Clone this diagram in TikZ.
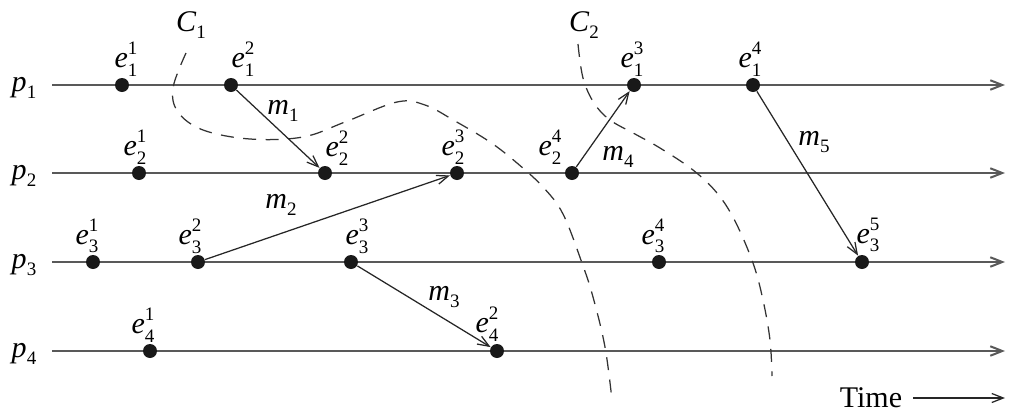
\documentclass[tikz,border=0pt]{standalone}
\usepackage{fontspec}
\setmainfont{Liberation Serif}
\usetikzlibrary{arrows.meta}
\newcommand\smalldig[1]{{\fontsize{7.6}{8}\selectfont #1}}
\newcommand\evl[2]{\textit{e}\rlap{\raisebox{0.45em}{\smalldig{#1}}}\raisebox{-0.27em}{\smalldig{#2}}}
\newcommand\subl[2]{\textit{#1}\raisebox{-0.22em}{\smalldig{#2}}}
\begin{document}
\begin{tikzpicture}[x=0.4pt,y=-0.4pt,
  proc/.style={draw=black!65, line width=0.8pt, -{Straight Barb[length=4.8pt,width=3.8pt]}},
  ev/.style={circle, fill=black!90, inner sep=0pt, minimum size=5.6pt},
  msg/.style={draw=black!85, line width=0.5pt, -{Straight Barb[length=4.6pt,width=3.6pt]}},
  cut/.style={draw=black!80, line width=0.5pt, dash pattern=on 5.2pt off 3.8pt},
  lab/.style={inner sep=0pt, font=\fontsize{12}{14}\selectfont}]
\useasboundingbox (0,0) rectangle (1009,414);

% process lines
\foreach \i/\y in {1/85,2/173,3/262,4/351}{
  \node[lab] (p\i) at (24,\y+3) {\subl{p}{\i}};
  \coordinate (s\i) at (52,\y);
  \coordinate (t\i) at (1005,\y);
  \draw[proc] (s\i) -- (t\i);
}

% cuts
\node[lab] (c1) at (191,25) {\subl{C}{1}};
\node[lab] (c2) at (584,25) {\subl{C}{2}};
\draw[cut] plot[smooth, tension=0.6] coordinates {(186,53) (173,88) (178,112) (203,130) (250,139) (303,137) (345,122) (397,102) (425,105) (455,121) (490,142) (517,163) (543,187) (563,214) (582,263) (593,297) (605,347) (612,400)};
\draw[cut] plot[smooth, tension=0.6] coordinates {(578,44) (583,78) (594,103) (610,120) (635,134) (660,148) (693,170) (717,193) (735,221) (753,263) (763,300) (770,340) (772,376)};

% events
\node[ev] (e11) at (122,85) {};
\node[ev] (e12) at (231,85) {};
\node[ev] (e13) at (634,85) {};
\node[ev] (e14) at (753,85) {};
\node[ev] (e21) at (139,173) {};
\node[ev] (e22) at (325,173) {};
\node[ev] (e23) at (457,173) {};
\node[ev] (e24) at (572,173) {};
\node[ev] (e31) at (93,262) {};
\node[ev] (e32) at (198,262) {};
\node[ev] (e33) at (351,262) {};
\node[ev] (e34) at (659,262) {};
\node[ev] (e35) at (862,262) {};
\node[ev] (e41) at (150,351) {};
\node[ev] (e42) at (497,351) {};

% event labels
\node[lab] (l11) at (126,59) {\evl{1}{1}};
\node[lab] (l12) at (243,59) {\evl{2}{1}};
\node[lab] (l13) at (632,59) {\evl{3}{1}};
\node[lab] (l14) at (750,59) {\evl{4}{1}};
\node[lab] (l21) at (135,147) {\evl{1}{2}};
\node[lab] (l22) at (337,148) {\evl{2}{2}};
\node[lab] (l23) at (453,147) {\evl{3}{2}};
\node[lab] (l24) at (550,147) {\evl{4}{2}};
\node[lab] (l31) at (87,236) {\evl{1}{3}};
\node[lab] (l32) at (190,236) {\evl{2}{3}};
\node[lab] (l33) at (357,236) {\evl{3}{3}};
\node[lab] (l34) at (653,236) {\evl{4}{3}};
\node[lab] (l35) at (868,235) {\evl{5}{3}};
\node[lab] (l41) at (143,325) {\evl{1}{4}};
\node[lab] (l42) at (487,324) {\evl{2}{4}};

% messages
\draw[msg] (e12) -- (e22);
\draw[msg] (e32) -- (e23);
\draw[msg] (e33) -- (e42);
\draw[msg] (e24) -- (e13);
\draw[msg] (e14) -- (e35);
\node[lab] (m1) at (283,111) {\subl{m}{1}};
\node[lab] (m2) at (281,205) {\subl{m}{2}};
\node[lab] (m3) at (444,297) {\subl{m}{3}};
\node[lab] (m4) at (618,157) {\subl{m}{4}};
\node[lab] (m5) at (814,142) {\subl{m}{5}};

% time
\node[lab] (time) at (871,398) {Time};
\coordinate (ts) at (913,398);
\coordinate (te) at (1005,398);
\draw[msg] (ts) -- (te);
\end{tikzpicture}
\end{document}
